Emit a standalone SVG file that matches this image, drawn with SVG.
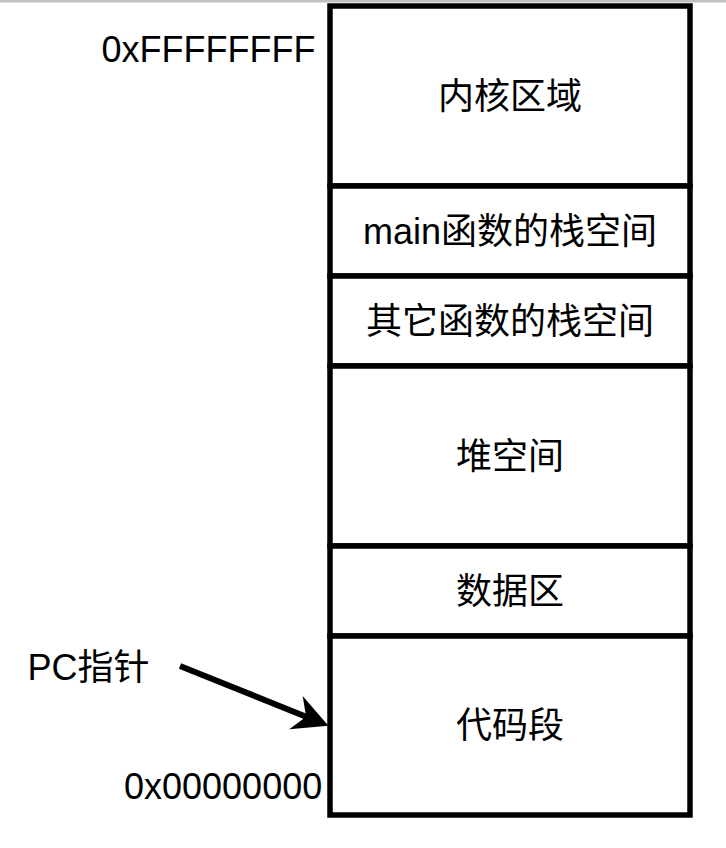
<svg xmlns="http://www.w3.org/2000/svg" width="726" height="848" viewBox="0 0 726 848">
<style>
.box{fill:#ffffff;stroke:#000000;stroke-width:5.5}
.t{font-family:"Liberation Sans","Noto Sans CJK SC",sans-serif;font-size:36px;fill:#000000}
.c{text-anchor:middle}
.conn{fill:none;stroke:#000000;stroke-width:6}
</style>
<defs>
<marker id="arrow" markerUnits="userSpaceOnUse" viewBox="-36 -20 38 40" markerWidth="38" markerHeight="40" refX="-22" refY="0" orient="auto">
<path d="M0,0 L-35,-18 L-24,0 L-35,18 Z" fill="#000000"/>
</marker>
</defs>
<rect x="0" y="0" width="726" height="2.5" fill="#c0c0c0"/>
<g id="kernel"><rect class="box" x="330" y="6" width="360" height="180"/><text class="t c" x="510" y="109">内核区域</text></g>
<g id="main-stack"><rect class="box" x="330" y="186" width="360" height="90"/><text class="t c" x="510" y="244">main函数的栈空间</text></g>
<g id="other-stack"><rect class="box" x="330" y="276" width="360" height="90"/><text class="t c" x="510" y="334">其它函数的栈空间</text></g>
<g id="heap"><rect class="box" x="330" y="366" width="360" height="180"/><text class="t c" x="510" y="469">堆空间</text></g>
<g id="data"><rect class="box" x="330" y="546" width="360" height="90"/><text class="t c" x="510" y="604">数据区</text></g>
<g id="code"><rect class="box" x="330" y="636" width="360" height="179"/><text class="t c" x="510" y="738">代码段</text></g>
<g id="addr-high"><text class="t" x="101.5" y="62">0xFFFFFFFF</text></g>
<g id="addr-low"><text class="t" x="124" y="799">0x00000000</text></g>
<g id="pc"><text class="t" x="27.5" y="680">PC指针</text></g>
<g id="connectors">
<path class="conn" d="M180,666 L308,717.5" marker-end="url(#arrow)"/>
</g>
</svg>
